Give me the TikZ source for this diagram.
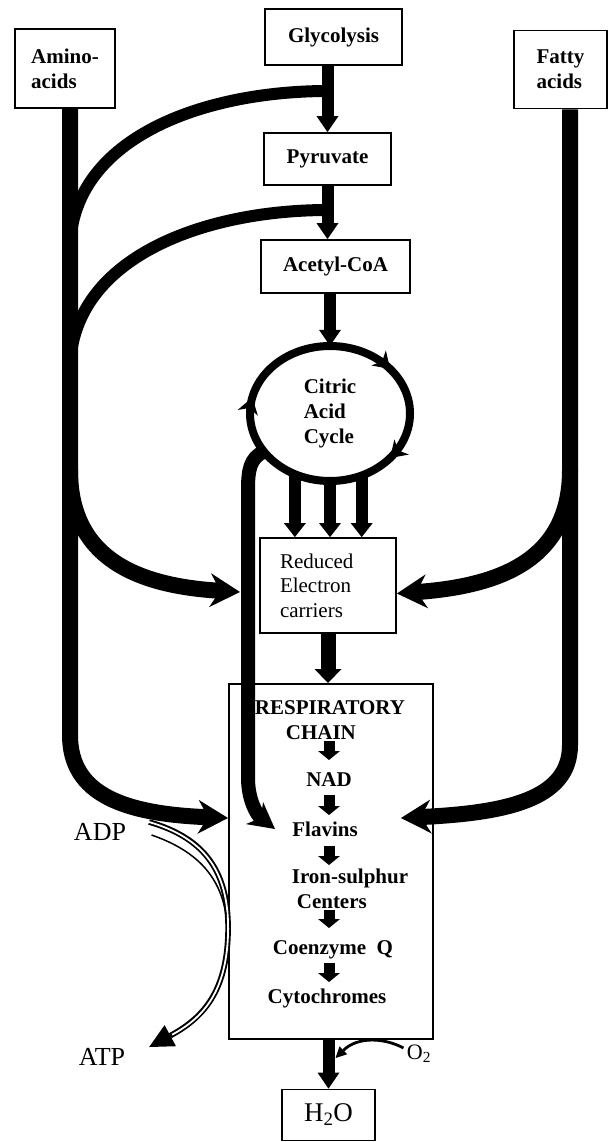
\documentclass[tikz,border=0pt]{standalone}
\usepackage{fontspec}
\setmainfont{Liberation Serif}
\usetikzlibrary{arrows.meta,shapes.geometric,decorations.markings,calc}
\begin{document}
\begin{tikzpicture}[x=1pt,y=-1pt,
  bx/.style={draw, line width=1.8pt, inner sep=0pt},
  bl/.style={font=\fontsize{21}{25}\selectfont\bfseries, align=left},
  rg/.style={font=\fontsize{21}{24.5}\selectfont, align=left},
  big/.style={font=\fontsize{26}{30}\selectfont},
  mainarrow/.style={line width=12pt, -{Triangle[length=16pt,width=22pt,line width=0pt]}},
  smallarrow/.style={line width=12pt, -{Triangle[length=14pt,width=22pt,line width=0pt]}},
  sidearrow/.style={line width=16pt, -{Stealth[length=30pt,width=34pt,inset=10pt,line width=0pt]}},
  band/.style={line width=12pt},
  chainarrow/.style={line width=11pt, -{Triangle[length=9pt,width=22pt,line width=0pt]}}
]
\useasboundingbox (0,0) rectangle (609,1142);
\fill[white] (0,0) rectangle (609,1142);

% boxes
\node[bx,bl,minimum width=100pt,minimum height=79pt] (amino) at (65,68.5) {Amino-\\acids};
\node[bx,bl,minimum width=137pt,minimum height=56pt] (glyco) at (333.5,37) {Glycolysis};
\node[bx,bl,minimum width=93pt,minimum height=78pt] (fatty) at (560.5,69.5) {Fatty\\acids};
\node[bx,bl,minimum width=127pt,minimum height=52pt] (pyr) at (327.5,159) {Pyruvate};
\node[bx,bl,minimum width=149pt,minimum height=53pt] (acetyl) at (335.5,266.5) {Acetyl-CoA};
\node[ellipse,minimum width=160pt,minimum height=135pt,inner sep=0pt,bl] (cac) at (330,413.5) {Citric\\Acid\\Cycle};
\node[bx,rg,minimum width=136pt,minimum height=95pt,text width=96pt] (red) at (328,585.5) {Reduced\\Electron\\carriers};
\node[bx,line width=2pt,minimum width=204pt,minimum height=355pt] (resp) at (331,861.5) {};
\node[bx,minimum width=93pt,minimum height=51pt,font=\fontsize{27}{30}\selectfont] (h2o) at (328.5,1115) {H\textsubscript{2}O};

% respiratory chain contents
\node[bl] (title) at (330,720) {RESPIRATORY\\\hspace*{31pt}CHAIN};
\node[bl,inner sep=0pt] (nad) at (329,780) {NAD};
\node[bl,inner sep=0pt] (flavins) at (325,829) {Flavins};
\node[bl,inner sep=0pt] (iron) at (350,889) {Iron-sulphur\\\hspace*{5pt}Centers};
\node[bl,inner sep=0pt] (coq) at (333,950) {Coenzyme\ \ Q};
\node[bl,inner sep=0pt] (cyto) at (327,998) {Cytochromes};

% free labels
\node[big] (adp) at (100,832) {ADP};
\node[big] (atp) at (102,1057) {ATP};
\node[font=\fontsize{22}{24}\selectfont] (o2) at (419,1054) {O\textsubscript{2}};

% named points
\coordinate (b1) at (328,91);
\coordinate (b2) at (328,210);
\coordinate (m1) at (70,250);
\coordinate (m2) at (70,370);
\coordinate (lt) at (240,592);
\coordinate (hk) at (275,829);

% main vertical flow
\draw[mainarrow] (pyr |- glyco.south) -- (pyr.north);
\draw[mainarrow] (pyr.south) -- (pyr |- acetyl.north);
\draw[mainarrow] (cac.north |- acetyl.south) -- (cac.north);

% curves from the main line to the amino acid line
\draw[band] (b1) .. controls (200,91) and (70,140) .. (m1);
\draw[band] (b2) .. controls (200,210) and (70,260) .. (m2);

% citric acid cycle ring
\draw[line width=8pt, postaction={decorate},
  decoration={markings,
    mark=at position 0.108 with {\arrow{Stealth[length=16pt,width=21pt,inset=5pt,line width=0pt]}},
    mark=at position 0.535 with {\arrow{Stealth[length=16pt,width=21pt,inset=5pt,line width=0pt]}},
    mark=at position 0.892 with {\arrow{Stealth[length=16pt,width=21pt,inset=5pt,line width=0pt]}}}]
  (cac.center) ellipse [x radius=80, y radius=67.5];

% three arrows to reduced carriers
\draw[smallarrow] (cac.240) -- (cac.240 |- red.north);
\draw[smallarrow] (cac.south) -- (cac.south |- red.north);
\draw[smallarrow] (cac.297) -- (cac.297 |- red.north);

% reduced -> respiratory chain
\draw[line width=15pt, -{Triangle[length=14pt,width=27pt,line width=0pt]}] (red.south) -- (red.south |- resp.north);

% long hook line from the cycle
\draw[line width=14pt, -{Stealth[length=26pt,width=28pt,inset=8pt,line width=0pt]}]
  (cac.210) .. controls (250,458) and (248,470) .. (248,490) -- (248,778)
  .. controls (248,800) and (257,815) .. (hk);

% amino acid line
\draw[sidearrow] ([xshift=5pt]amino.south) -- (70,735) .. controls (70,795) and (125,814) .. ([yshift=43.5pt]resp.west);
\draw[sidearrow] (70,470) .. controls (70,560) and (140,586) .. (lt);

% fatty acid line
\draw[sidearrow] ([xshift=9.5pt]fatty.south) -- (570,745) .. controls (570,800) and (505,813) .. ([xshift=-33pt,yshift=43.5pt]resp.east);
\draw[sidearrow] (570,470) .. controls (570,560) and (500,586) .. ([yshift=-8pt]red.east);

% chain arrows
\draw[chainarrow, shorten <=21pt, shorten >=20pt] (nad |- title) -- (nad.center);
\draw[chainarrow, shorten <=15pt, shorten >=14pt] (nad.center) -- (nad |- flavins);
\draw[chainarrow, shorten <=17pt, shorten >=24pt] (nad |- flavins) -- (nad |- iron);
\draw[chainarrow, shorten <=21pt, shorten >=22pt] (nad |- iron) -- (nad |- coq);
\draw[chainarrow, shorten <=13pt, shorten >=16pt] (nad |- coq) -- (nad |- cyto);

% to water
\draw[mainarrow] (h2o.north |- resp.south) -- (h2o.north);
\draw[line width=2.8pt, -{Triangle[length=11pt,width=11pt,line width=0pt]}]
  ([yshift=6pt]o2.west) .. controls (385,1038) and (358,1036) .. ([xshift=7pt,yshift=-18pt]h2o.north |- resp.south);

% ADP -> ATP
\draw[line width=5.6pt, -{Triangle[length=24pt,width=24pt,line width=0pt]}]
  ([xshift=19.5pt,yshift=10pt]adp.east) .. controls (205,838) and (230,872) .. (228,935)
  .. controls (226,990) and (205,1017) .. ([xshift=20.5pt,yshift=10pt]atp.east);
\draw[line width=1.8pt, white, shorten >=26pt, shorten <=-1pt]
  ([xshift=19.5pt,yshift=10pt]adp.east) .. controls (205,838) and (230,872) .. (228,935)
  .. controls (226,990) and (205,1017) .. ([xshift=20.5pt,yshift=10pt]atp.east);
\draw[line width=1.5pt] ([xshift=22pt,yshift=-3pt]adp.east) .. controls (195,850) and (220,875) .. (226,915);
\end{tikzpicture}
\end{document}
